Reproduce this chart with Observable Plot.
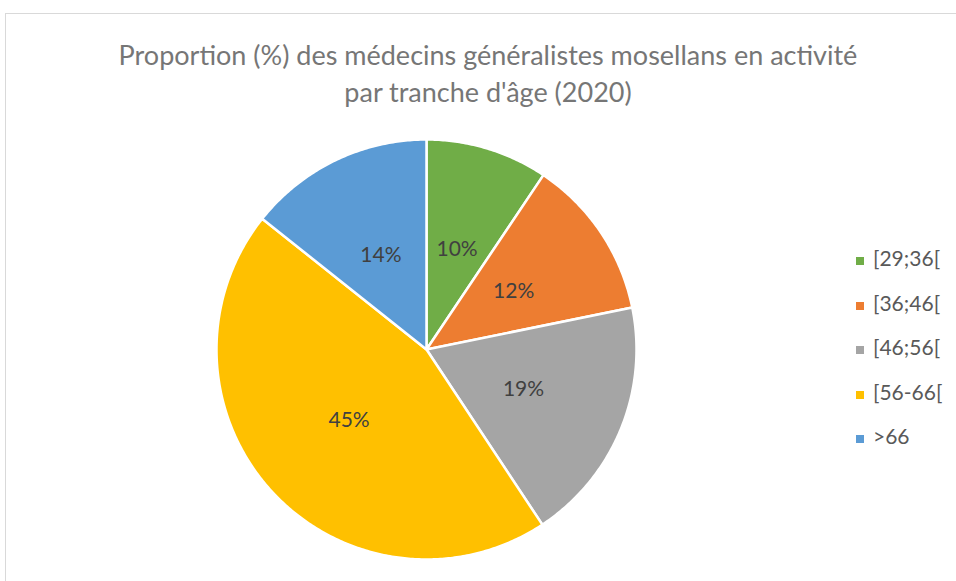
<!DOCTYPE html>
<html>
<head>
<meta charset="utf-8">
<script src="https://cdn.jsdelivr.net/npm/d3@7"></script>
<script src="https://cdn.jsdelivr.net/npm/@observablehq/plot@0.6"></script>
<style>
  html, body { margin: 0; padding: 0; background: #fff; width: 956px; height: 581px; overflow: hidden; }
  #frame { position: absolute; left: 5px; top: 13px; width: 1000px; height: 620px; border: 1.5px solid #d9d9d9; box-sizing: border-box; }
  #title { position: absolute; left: 0; top: 36px; width: 976px; text-align: center; font-family: Lato, sans-serif; font-size: 27px; line-height: 37px; color: #767676; }
  #chart { position: absolute; left: 212px; top: 135px; }
  #chart svg { overflow: visible; }
  #legend { position: absolute; left: 856px; top: 245px; font-family: Lato, sans-serif; font-size: 21px; color: #595959; }
  .row { height: 44.6px; display: flex; align-items: flex-start; }
  .sw { width: 8px; height: 8px; margin-right: 9px; margin-top: 12px; }
</style>
</head>
<body>
<div id="frame"></div>
<div id="title">Proportion (%) des médecins généralistes mosellans en activité<br>par tranche d'âge (2020)</div>
<div id="chart"></div>
<div id="legend"></div>
<script>
const categories = ["[29;36[", "[36;46[", "[46;56[", "[56-66[", ">66"];
const values = [9.4, 12.4, 18.9, 45.0, 14.3];
const labels = ["10%", "12%", "19%", "45%", "14%"];
const colors = ["#70AD47", "#ED7D31", "#A5A5A5", "#FFC000", "#5B9BD5"];

const pie = d3.pie().sort(null).value(d => d.value)(categories.map((c, i) => ({cat: c, value: values[i], label: labels[i]})));

// polygon vertices for each slice (angle measured clockwise from top)
const poly = [];
pie.forEach(s => {
  const n = Math.max(2, Math.ceil((s.endAngle - s.startAngle) / 0.01));
  poly.push({cat: s.data.cat, x: 0, y: 0});
  for (let k = 0; k <= n; k++) {
    const a = s.startAngle + (s.endAngle - s.startAngle) * k / n;
    poly.push({cat: s.data.cat, x: Math.sin(a), y: Math.cos(a)});
  }
  poly.push({cat: s.data.cat, x: 0, y: 0});
});
const labelPts = pie.map(s => {
  const a = (s.startAngle + s.endAngle) / 2;
  const r = 0.5;
  return {cat: s.data.cat, label: s.data.label, x: r * Math.sin(a), y: r * Math.cos(a)};
});

const plot = Plot.plot({
  width: 428, height: 428,
  margin: 4,
  x: {domain: [-1, 1], axis: null},
  y: {domain: [-1, 1], axis: null},
  color: {domain: categories, range: colors},
  style: {background: "transparent"},
  marks: [
    Plot.line(poly, {x: "x", y: "y", z: "cat", fill: "cat", stroke: "white", strokeWidth: 2.5, strokeLinejoin: "round", curve: "linear"}),
    Plot.text(labelPts, {x: "x", y: "y", text: "label", fill: "#404040", fontSize: 21, fontFamily: "Lato, sans-serif"})
  ]
});
document.getElementById("chart").appendChild(plot);

const leg = document.getElementById("legend");
categories.forEach((c, i) => {
  const row = document.createElement("div");
  row.className = "row";
  const sw = document.createElement("div");
  sw.className = "sw";
  sw.style.background = colors[i];
  const t = document.createElement("span");
  t.textContent = c;
  row.appendChild(sw); row.appendChild(t);
  leg.appendChild(row);
});
</script>
</body>
</html>
